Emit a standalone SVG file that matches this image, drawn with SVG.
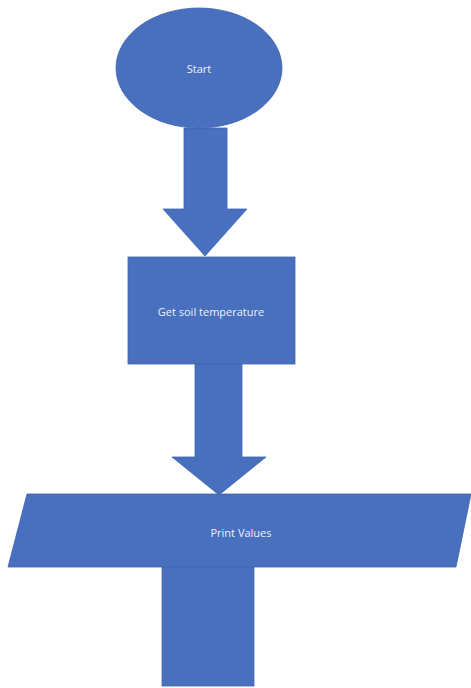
<svg xmlns="http://www.w3.org/2000/svg" width="471" height="688" viewBox="0 0 471 688">
<style>
.s{fill:#4870bf;stroke:#3f66ad;stroke-width:0.8}
.t{fill:#eef1f8;font-family:"Open Sans","Liberation Sans",sans-serif;font-size:11px;text-anchor:middle;dominant-baseline:central}
</style>
<rect width="471" height="688" fill="#ffffff"/>
<g id="connectors">
<polygon class="s" points="184,128 227,128 227,209 247,209 205,256 163,209 184,209"/>
<polygon class="s" points="195,364 242,364 242,457 266,457 219,495 172,457 195,457"/>
</g>
<g id="start">
<ellipse class="s" cx="199" cy="68" rx="83" ry="60"/>
<text class="t" x="199" y="68">Start</text>
</g>
<g id="get-soil">
<rect class="s" x="128" y="257" width="167" height="107"/>
<text class="t" x="211" y="311">Get soil temperature</text>
</g>
<g id="print">
<polygon class="s" points="27,494 471,494 456,567 8,567"/>
<text class="t" x="241" y="532">Print Values</text>
</g>
<g id="bottom">
<rect class="s" x="162" y="567" width="92" height="119"/>
</g>
</svg>
